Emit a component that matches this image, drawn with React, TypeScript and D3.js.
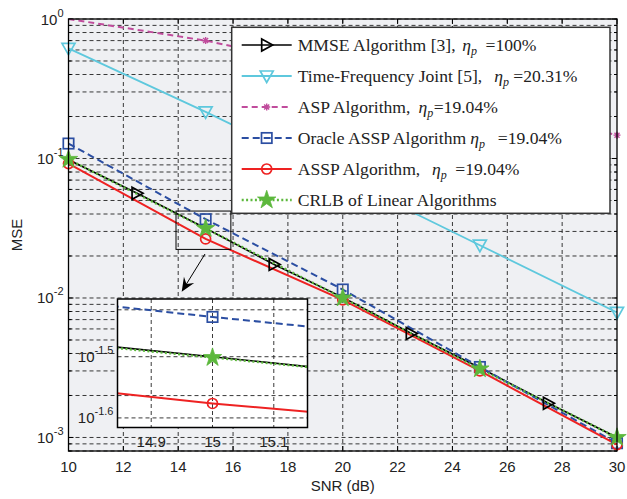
import React from 'react';
import * as d3 from 'd3';

// ---- data ----
const snr = [10, 15, 20, 25, 30];
const snrMmse = [10, 12.5, 15, 17.5, 20, 22.5, 25, 27.5, 30];
const mmse = [0.098, 0.0563, 0.0316, 0.0174, 0.0101, 0.00557, 0.00316, 0.00176, 0.001];
const mmseMarkerSnr = [12.5, 17.5, 22.5, 27.5];
const timeFreq = [0.616, 0.216, 0.0725, 0.0239, 0.00788];
const asp = [1.0, 0.7, 0.43, 0.25, 0.147];
const oracle = [0.128, 0.0367, 0.0115, 0.0032, 0.00091];
const assp = [0.092, 0.0265, 0.0097, 0.003, 0.00089];
const crlb = [0.0985, 0.0315, 0.01, 0.0031, 0.001];

const xTicks = [10, 12, 14, 16, 18, 20, 22, 24, 26, 28, 30];
const yDecades = [0, -1, -2, -3];
const insetXTicks = [14.9, 15, 15.1];
const insetYExps = [-1.5, -1.6];
const insetYGrid = [0.0377, 0.0316, 0.0273, 0.0251];
const zoomBoxSnr = [13.92, 15.92];
const zoomBoxMse = [0.0223, 0.042];

const legendLabels = [
  'MMSE Algorithm [3],',
  'Time-Frequency Joint [5],',
  'ASP Algorithm,',
  'Oracle ASSP Algorithm',
  'ASSP Algorithm,',
  'CRLB of Linear Algorithms',
];
const legendValues = ['=100%', '=20.31%', '=19.04%', '=19.04%', '=19.04%', ''];

// ---- layout / style ----
const W = 627, H = 499;
const PL = 68.5, PR = 617, PT = 19, PB = 451;
const IL = 117.5, IR = 307.5, IT = 299, IB = 427.5;
const etaGap = [6.6, 12, 8, 4, 11.7];
const eqGap = [8.6, 4.3, 0.5, 12.9, 8.6];

type MType = 'tri-right' | 'tri-down' | 'asterisk' | 'square' | 'circle' | 'star';
interface Series { name: string; xs: number[]; ys: number[]; color: string; width: number; dash?: string; marker: MType; markerXs: number[]; }

const series: Series[] = [
  { name: 'mmse', xs: snrMmse, ys: mmse, color: '#000000', width: 1.6, marker: 'tri-right', markerXs: mmseMarkerSnr },
  { name: 'tf', xs: snr, ys: timeFreq, color: '#5ec8dd', width: 1.8, marker: 'tri-down', markerXs: snr },
  { name: 'asp', xs: snr, ys: asp, color: '#c04c9c', width: 2, dash: '6,4', marker: 'asterisk', markerXs: [15, 20, 25, 30] },
  { name: 'oracle', xs: snr, ys: oracle, color: '#2b4ea2', width: 2, dash: '7,4', marker: 'square', markerXs: snr },
  { name: 'assp', xs: snr, ys: assp, color: '#ee2222', width: 2, marker: 'circle', markerXs: snr },
  { name: 'crlb', xs: snr, ys: crlb, color: '#5cb83c', width: 2.3, dash: '2,2.4', marker: 'star', markerXs: snr },
];

const starPath = d3.symbol(d3.symbolStar, 105)() as string;

function Marker({ type, cx, cy, color }: { type: MType; cx: number; cy: number; color: string }) {
  const sw = 1.7;
  switch (type) {
    case 'tri-right':
      return <path d={`M${cx - 5},${cy - 6}L${cx + 6},${cy}L${cx - 5},${cy + 6}Z`} fill="none" stroke={color} strokeWidth={sw} />;
    case 'tri-down':
      return <path d={`M${cx - 6.5},${cy - 5}L${cx + 6.5},${cy - 5}L${cx},${cy + 6.5}Z`} fill="none" stroke={color} strokeWidth={sw} />;
    case 'square':
      return <rect x={cx - 5.2} y={cy - 5.2} width={10.4} height={10.4} fill="none" stroke={color} strokeWidth={sw} />;
    case 'circle':
      return <circle cx={cx} cy={cy} r={5} fill="none" stroke={color} strokeWidth={sw} />;
    case 'star':
      return <path d={starPath} transform={`translate(${cx},${cy})`} fill={color} stroke={color} strokeWidth={0.8} />;
    case 'asterisk': {
      const r = 3.5, q = 2.5;
      return (
        <path d={`M${cx - r},${cy}L${cx + r},${cy}M${cx},${cy - r}L${cx},${cy + r}M${cx - q},${cy - q}L${cx + q},${cy + q}M${cx - q},${cy + q}L${cx + q},${cy - q}`}
          stroke={color} strokeWidth={1.4} fill="none" />
      );
    }
  }
  return null;
}

export default function App() {
  const x = d3.scaleLinear().domain([10, 30]).range([PL, PR]);
  const y = d3.scaleLog().domain([8e-4, 1]).range([PB, PT]);
  const ix = d3.scaleLinear().domain([14.845, 15.155]).range([IL, IR]);
  const iy = d3.scaleLog().domain([Math.pow(10, -1.616), Math.pow(10, -1.406)]).range([IB, IT]);

  const yGrid: number[] = [];
  const yMinor: number[] = [];
  for (let e = -4; e <= 0; e++) {
    for (let m = 1; m <= 9; m++) {
      const v = m * Math.pow(10, e);
      if (v >= 8e-4 && v <= 1.0000001) {
        yGrid.push(v);
        if (m !== 1) yMinor.push(v);
      }
    }
  }

  const line = (sx: any, sy: any) => d3.line<[number, number]>().x(d => sx(d[0])).y(d => sy(d[1]));
  const mainLine = line(x, y);
  const insetLine = line(ix, iy);

  const font = "'Liberation Sans', Arial, sans-serif";
  const serif = "'Liberation Serif', 'Times New Roman', serif";
  const gridStyle = { stroke: '#222', strokeWidth: 0.9, strokeDasharray: '4,3' };

  // arrow
  const ax0 = 205, ay0 = 254, ax1 = 181.7, ay1 = 291.7;
  const dx = ax1 - ax0, dy = ay1 - ay0, len = Math.hypot(dx, dy);
  const ux = dx / len, uy = dy / len, nx = -uy, ny = ux;
  const hl = 14, hw = 6, notch = 9;
  const headPath = `M${ax1},${ay1}L${ax1 - hl * ux + hw * nx},${ay1 - hl * uy + hw * ny}L${ax1 - notch * ux},${ay1 - notch * uy}L${ax1 - hl * ux - hw * nx},${ay1 - hl * uy - hw * ny}Z`;

  const rowY = (i: number) => 45 + i * 31;

  return (
    <svg width={W} height={H} style={{ position: 'absolute', left: 0, top: 0, background: '#fff' }}>
      <defs>
        <clipPath id="plotClip"><rect x={PL} y={PT} width={PR - PL} height={PB - PT} /></clipPath>
        <clipPath id="insetClip"><rect x={IL} y={IT} width={IR - IL} height={IB - IT} /></clipPath>
      </defs>
      <rect x={PL} y={PT} width={PR - PL} height={PB - PT} fill="#eff0f3" />
      {/* grid */}
      <g>
        {xTicks.slice(1, -1).map(t => <line key={'gx' + t} x1={x(t)} x2={x(t)} y1={PT} y2={PB} {...gridStyle} />)}
        {yGrid.map(v => <line key={'gy' + v} x1={PL} x2={PR} y1={y(v)} y2={y(v)} {...gridStyle} />)}
      </g>
      {/* ticks */}
      <g stroke="#000" strokeWidth={1}>
        {xTicks.map(t => (
          <g key={'tx' + t}>
            <line x1={x(t)} x2={x(t)} y1={PB} y2={PB - 5} />
            <line x1={x(t)} x2={x(t)} y1={PT} y2={PT + 5} />
          </g>
        ))}
        {yDecades.map(e => (
          <g key={'ty' + e}>
            <line x1={PL} x2={PL + 5} y1={y(Math.pow(10, e))} y2={y(Math.pow(10, e))} />
            <line x1={PR} x2={PR - 5} y1={y(Math.pow(10, e))} y2={y(Math.pow(10, e))} />
          </g>
        ))}
        {yMinor.map(v => (
          <g key={'tm' + v}>
            <line x1={PL} x2={PL + 3} y1={y(v)} y2={y(v)} />
            <line x1={PR} x2={PR - 3} y1={y(v)} y2={y(v)} />
          </g>
        ))}
      </g>
      {/* series lines */}
      <g clipPath="url(#plotClip)">
        {series.map(s => (
          <path key={s.name} d={mainLine(s.xs.map((v, i) => [v, s.ys[i]] as [number, number])) as string}
            fill="none" stroke={s.color} strokeWidth={s.width} strokeDasharray={s.dash} />
        ))}
      </g>
      {/* markers */}
      <g>
        {series.map(s => s.markerXs.map(mx => {
          const i = s.xs.indexOf(mx);
          return <Marker key={s.name + mx} type={s.marker} cx={x(mx)} cy={y(s.ys[i])} color={s.color} />;
        }))}
      </g>
      {/* zoom box and arrow */}
      <rect x={x(zoomBoxSnr[0])} y={y(zoomBoxMse[1])} width={x(zoomBoxSnr[1]) - x(zoomBoxSnr[0])} height={y(zoomBoxMse[0]) - y(zoomBoxMse[1])}
        fill="none" stroke="#000" strokeWidth={1} />
      <line x1={ax0} y1={ay0} x2={ax1 - notch * ux} y2={ay1 - notch * uy} stroke="#000" strokeWidth={1} />
      <path d={headPath} fill="#000" />

      {/* frame */}
      <rect x={PL} y={PT} width={PR - PL} height={PB - PT} fill="none" stroke="#000" strokeWidth={1.3} />

      {/* x tick labels */}
      <g fontFamily={font} fontSize={15} fill="#222" textAnchor="middle">
        {xTicks.map(t => <text key={'lx' + t} x={x(t)} y={471.5}>{t}</text>)}
      </g>
      {/* y tick labels */}
      <g fontFamily={font} fill="#222" textAnchor="end">
        {yDecades.map(e => (
          <text key={'ly' + e} x={63.5} y={y(Math.pow(10, e)) + 5.5} fontSize={15}>
            10<tspan dy={-8} fontSize={11}>{e}</tspan>
          </text>
        ))}
      </g>
      <text x={(PL + PR) / 2} y={491} fontFamily={font} fontSize={15} fill="#222" textAnchor="middle">SNR (dB)</text>
      <text transform={`translate(22,235) rotate(-90)`} fontFamily={font} fontSize={15} fill="#222" textAnchor="middle">MSE</text>

      {/* inset */}
      <rect x={IL} y={IT} width={IR - IL} height={IB - IT} fill="#fff" />
      <g>
        {insetXTicks.map(t => <line key={'igx' + t} x1={ix(t)} x2={ix(t)} y1={IT} y2={IB} {...gridStyle} />)}
        {insetYGrid.map(v => <line key={'igy' + v} x1={IL} x2={IR} y1={iy(v)} y2={iy(v)} {...gridStyle} />)}
      </g>
      <g clipPath="url(#insetClip)">
        {series.map(s => (
          <path key={'i' + s.name} d={insetLine(s.xs.map((v, i) => [v, s.ys[i]] as [number, number])) as string}
            fill="none" stroke={s.color} strokeWidth={s.width} strokeDasharray={s.dash} />
        ))}
        {series.filter(s => s.name !== 'mmse').map(s => {
          const i = s.xs.indexOf(15);
          return <Marker key={'im' + s.name} type={s.marker} cx={ix(15)} cy={iy(s.ys[i])} color={s.color} />;
        })}
      </g>
      <rect x={IL} y={IT} width={IR - IL} height={IB - IT} fill="none" stroke="#000" strokeWidth={1.5} />
      <g fontFamily={font} fontSize={15} fill="#222" textAnchor="middle">
        {insetXTicks.map(t => <text key={'ilx' + t} x={ix(t)} y={446.5}>{t}</text>)}
      </g>
      <g fontFamily={font} fill="#222" textAnchor="end">
        {insetYExps.map(e => (
          <text key={'ily' + e} x={113.5} y={iy(Math.pow(10, e)) + 5.5} fontSize={15}>
            10<tspan dy={-8} fontSize={11}>{e}</tspan>
          </text>
        ))}
      </g>

      {/* legend */}
      <rect x={231.7} y={27.3} width={610 - 231.7} height={213.3 - 27.3} fill="#fff" stroke="#333" strokeWidth={1.5} />
      {series.map((s, i) => (
        <g key={'lg' + s.name}>
          <line x1={241.7} x2={291.7} y1={rowY(i)} y2={rowY(i)} stroke={s.color} strokeWidth={s.width} strokeDasharray={s.dash} />
          <Marker type={s.marker} cx={266.7} cy={rowY(i)} color={s.color} />
          <text x={297.7} y={rowY(i) + 6} fontFamily={serif} fontSize={17.6} fill="#222">
            {legendLabels[i]}
            {legendValues[i] && (
              <>
                <tspan dx={etaGap[i]} fontStyle="italic">η</tspan>
                <tspan dy={4} fontSize={12} fontStyle="italic">p</tspan>
                <tspan dx={eqGap[i]} dy={-4}>{legendValues[i]}</tspan>
              </>
            )}
          </text>
        </g>
      ))}
    </svg>
  );
}
